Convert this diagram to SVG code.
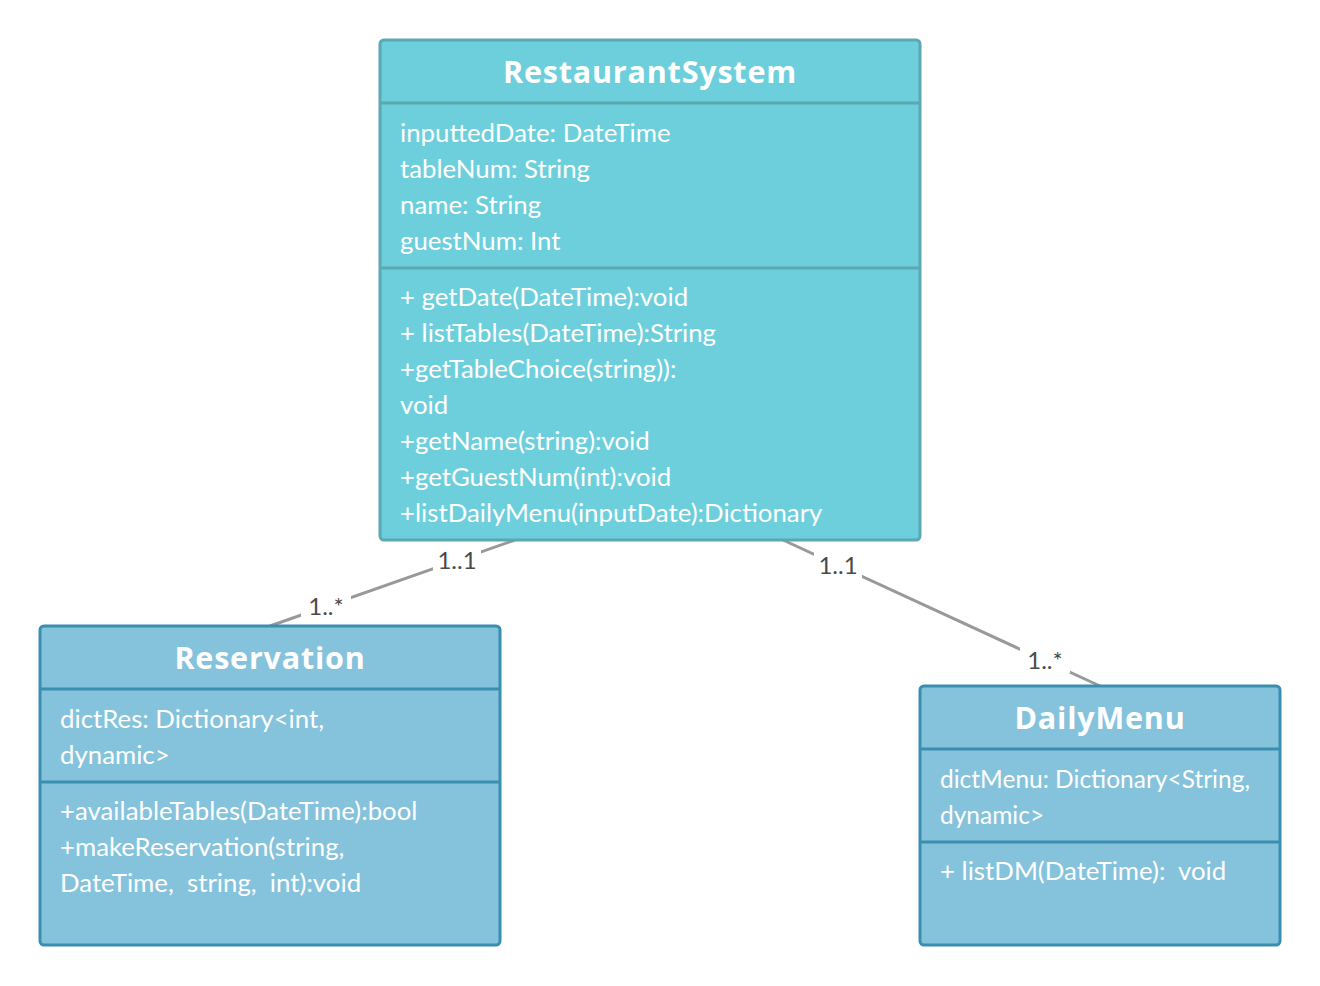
<svg xmlns="http://www.w3.org/2000/svg" width="1320" height="986" viewBox="0 0 1320 986">
<style>
.t1{fill:#6ecfdc;stroke:#5aa8b1;stroke-width:3}
.t2{fill:#85c3dc;stroke:#3a8eb0;stroke-width:3}
.d1{stroke:#5aa8b1;stroke-width:3}
.d2{stroke:#3a8eb0;stroke-width:3}
.title{font-family:"Open Sans","Lato",sans-serif;font-weight:bold;font-size:30.5px;fill:#fff;text-anchor:middle;letter-spacing:0.8px}
.body{font-family:"Lato","Open Sans",sans-serif;font-size:25.8px;fill:#fff}
.conn{stroke:#999;stroke-width:3;fill:none}
.lbl{font-family:"Lato",sans-serif;font-size:24px;fill:#4a4a4a;text-anchor:middle}
.bg{fill:#fff}
</style>
<rect width="1320" height="986" fill="#fff"/>
<g id="connectors">
<line class="conn" x1="515" y1="540" x2="270" y2="626"/>
<line class="conn" x1="783" y1="540" x2="1100" y2="686"/>
<rect class="bg" x="433" y="547" width="48" height="26"/>
<rect class="bg" x="301" y="593" width="50" height="26"/>
<rect class="bg" x="814" y="552" width="48" height="26"/>
<rect class="bg" x="1020" y="647" width="50" height="26"/>
<text class="lbl" x="457" y="569">1..1</text>
<text class="lbl" x="326" y="615">1..*</text>
<text class="lbl" x="838" y="574">1..1</text>
<text class="lbl" x="1045" y="669">1..*</text>
</g>
<g id="RestaurantSystem">
<rect class="t1" x="380" y="40" width="540" height="500" rx="4"/>
<line class="d1" x1="380" y1="103" x2="920" y2="103"/>
<line class="d1" x1="380" y1="268" x2="920" y2="268"/>
<text class="title" x="650" y="83">RestaurantSystem</text>
<text class="body" x="400" y="142">inputtedDate: DateTime</text>
<text class="body" x="400" y="178">tableNum: String</text>
<text class="body" x="400" y="214">name: String</text>
<text class="body" x="400" y="250">guestNum: Int</text>
<text class="body" x="400" y="306">+ getDate(DateTime):void</text>
<text class="body" x="400" y="342">+ listTables(DateTime):String</text>
<text class="body" x="400" y="378">+getTableChoice(string)):</text>
<text class="body" x="400" y="414">void</text>
<text class="body" x="400" y="450">+getName(string):void</text>
<text class="body" x="400" y="486">+getGuestNum(int):void</text>
<text class="body" x="400" y="522">+listDailyMenu(inputDate):Dictionary</text>
</g>
<g id="Reservation">
<rect class="t2" x="40" y="626" width="460" height="319" rx="4"/>
<line class="d2" x1="40" y1="689" x2="500" y2="689"/>
<line class="d2" x1="40" y1="782" x2="500" y2="782"/>
<text class="title" x="270" y="669">Reservation</text>
<text class="body" x="60" y="728">dictRes: Dictionary&lt;int,</text>
<text class="body" x="60" y="764">dynamic&gt;</text>
<text class="body" x="60" y="820">+availableTables(DateTime):bool</text>
<text class="body" x="60" y="856">+makeReservation(string,</text>
<text class="body" x="60" y="892" xml:space="preserve">DateTime,  string,  int):void</text>
</g>
<g id="DailyMenu">
<rect class="t2" x="920" y="686" width="360" height="259" rx="4"/>
<line class="d2" x1="920" y1="749" x2="1280" y2="749"/>
<line class="d2" x1="920" y1="842" x2="1280" y2="842"/>
<text class="title" x="1100" y="729">DailyMenu</text>
<text class="body" x="940" y="788" style="font-size:24.5px">dictMenu: Dictionary&lt;String,</text>
<text class="body" x="940" y="824" style="font-size:24.5px">dynamic&gt;</text>
<text class="body" x="940" y="880" xml:space="preserve">+ listDM(DateTime):  void</text>
</g>
</svg>
